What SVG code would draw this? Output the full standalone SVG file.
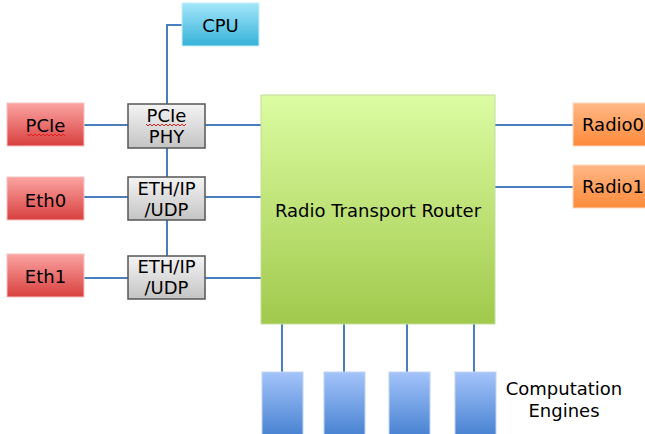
<svg xmlns="http://www.w3.org/2000/svg" width="645" height="434" viewBox="0 0 645 434">
<defs>
<linearGradient id="gRed" x1="0" y1="0" x2="0" y2="1"><stop offset="0" stop-color="#fba4a2"/><stop offset="1" stop-color="#d8403e"/></linearGradient>
<linearGradient id="gCyan" x1="0" y1="0" x2="0" y2="1"><stop offset="0" stop-color="#a3e6fa"/><stop offset="1" stop-color="#36b2d8"/></linearGradient>
<linearGradient id="gOrange" x1="0" y1="0" x2="0" y2="1"><stop offset="0" stop-color="#ffb886"/><stop offset="1" stop-color="#fd8a3a"/></linearGradient>
<linearGradient id="gGreen" x1="0" y1="0" x2="0" y2="1"><stop offset="0" stop-color="#dcfca2"/><stop offset="1" stop-color="#a1c94c"/></linearGradient>
<linearGradient id="gGray" x1="0" y1="0" x2="0" y2="1"><stop offset="0" stop-color="#f4f4f4"/><stop offset="1" stop-color="#c4c4c4"/></linearGradient>
<linearGradient id="gBlue" x1="0" y1="0" x2="0" y2="1"><stop offset="0" stop-color="#a4c4fa"/><stop offset="1" stop-color="#4580d0"/></linearGradient>
</defs>
<style>
text{font-family:"DejaVu Sans",Verdana,sans-serif;font-size:18px;fill:#000;text-anchor:middle}
.red{fill:url(#gRed);stroke:#f4c4c2;stroke-width:1}
.cyan{fill:url(#gCyan);stroke:#c8eefa;stroke-width:1}
.orange{fill:url(#gOrange);stroke:#ffd8c0;stroke-width:1}
.green{fill:url(#gGreen);stroke:#c4dca0;stroke-width:1}
.gray{fill:url(#gGray);stroke:#555;stroke-width:1.5}
.blue{fill:url(#gBlue);stroke:#c0d4f0;stroke-width:1}
.conn line,.conn polyline{stroke:#4a7ebf;stroke-width:2;fill:none}
.squig{stroke:#e02020;stroke-width:1;fill:none}
</style>
<g class="conn" id="connectors">
<polyline points="182,25 167,25 167,104"/>
<line x1="167" y1="148" x2="167" y2="177"/>
<line x1="167" y1="220" x2="167" y2="256"/>
<line x1="84" y1="125" x2="128" y2="125"/>
<line x1="205" y1="125" x2="262" y2="125"/>
<line x1="84" y1="197" x2="128" y2="197"/>
<line x1="205" y1="197" x2="262" y2="197"/>
<line x1="84" y1="278" x2="128" y2="278"/>
<line x1="205" y1="278" x2="262" y2="278"/>
<line x1="495" y1="125" x2="573" y2="125"/>
<line x1="495" y1="187" x2="573" y2="187"/>
<line x1="282" y1="324" x2="282" y2="372"/>
<line x1="344" y1="324" x2="344" y2="372"/>
<line x1="407" y1="324" x2="407" y2="372"/>
<line x1="474" y1="324" x2="474" y2="372"/>
</g>
<g id="cpu"><rect class="cyan" x="182" y="3" width="77" height="43"/><text x="220.5" y="32">CPU</text></g>
<g id="pcie"><rect class="red" x="7" y="103" width="77" height="43"/><text x="45.5" y="132">PCIe</text><polyline class="squig" points="27,134 29,136 31,134 33,136 35,134 37,136 39,134 41,136 43,134 45,136 47,134 49,136 51,134 53,136 55,134 57,136 59,134 61,136 63,134 65,136"/></g>
<g id="pcie-phy"><rect class="gray" x="128" y="104" width="77" height="44"/><text x="166.5" y="122">PCIe</text><polyline class="squig" points="146,124 148,126 150,124 152,126 154,124 156,126 158,124 160,126 162,124 164,126 166,124 168,126 170,124 172,126 174,124 176,126 178,124 180,126 182,124 184,126 186,124"/><text x="166.5" y="143">PHY</text></g>
<g id="eth0"><rect class="red" x="7" y="177" width="77" height="43"/><text x="45.5" y="207">Eth0</text></g>
<g id="ethipudp0"><rect class="gray" x="128" y="177" width="77" height="43"/><text x="166.5" y="195">ETH/IP</text><text x="166.5" y="216">/UDP</text></g>
<g id="eth1"><rect class="red" x="7" y="254" width="77" height="43"/><text x="45.5" y="283">Eth1</text></g>
<g id="ethipudp1"><rect class="gray" x="128" y="256" width="77" height="43"/><text x="166.5" y="273">ETH/IP</text><text x="166.5" y="294">/UDP</text></g>
<g id="router"><rect class="green" x="261" y="95" width="234" height="229"/><text x="378" y="217">Radio Transport Router</text></g>
<g id="radio0"><rect class="orange" x="573" y="103" width="80" height="43"/><text x="582" y="131" style="text-anchor:start">Radio0</text></g>
<g id="radio1"><rect class="orange" x="573" y="165" width="80" height="43"/><text x="582" y="193" style="text-anchor:start">Radio1</text></g>
<g id="engine0"><rect class="blue" x="262" y="372" width="41" height="66"/></g>
<g id="engine1"><rect class="blue" x="324" y="372" width="41" height="66"/></g>
<g id="engine2"><rect class="blue" x="389" y="372" width="41" height="66"/></g>
<g id="engine3"><rect class="blue" x="455" y="372" width="41" height="66"/></g>
<g id="engines-label"><text x="564" y="395">Computation</text><text x="564" y="417">Engines</text></g>
</svg>
